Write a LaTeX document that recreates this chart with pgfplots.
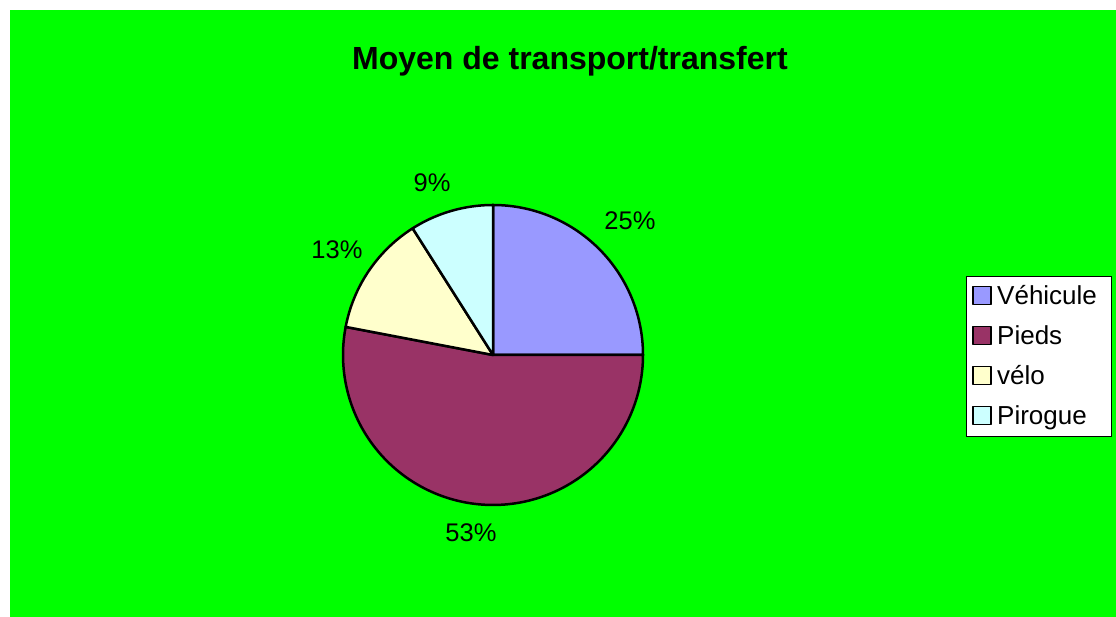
\documentclass[border=0pt]{standalone}
\usepackage{fontspec}
\setmainfont{Liberation Sans}
\usepackage{pgfplots}
\pgfplotsset{compat=1.18}
\definecolor{bggreen}{HTML}{00FF00}
\definecolor{cveh}{HTML}{9999FF}
\definecolor{cpie}{HTML}{993366}
\definecolor{cvel}{HTML}{FFFFCC}
\definecolor{cpir}{HTML}{CCFFFF}
\begin{document}
\begin{tikzpicture}
\begin{axis}[
  width=1116pt, height=617pt, scale only axis,
  xmin=0, xmax=1116, ymin=0, ymax=617,
  hide axis, clip=false,
  legend style={at={(axis cs:966,341)}, anchor=north west,
    draw=black, line width=0.8pt, fill=white,
    font=\fontsize{26}{30}\selectfont,
    inner xsep=6pt, inner ysep=6pt, row sep=12pt,
    nodes={text height=20pt, text depth=4pt, inner sep=2pt}},
  legend cell align=left,
  legend image code/.code={\draw[#1,line width=1.6pt] (0pt,-8pt) rectangle (18pt,10pt);
    \path[draw=none,fill=none] (22pt,0pt);},
]
% background
\fill[white] (axis cs:0,0) rectangle (axis cs:1116,617);
\fill[bggreen] (axis cs:10,0) rectangle (axis cs:1116,607);
% title
\node[font=\fontsize{32}{36}\selectfont\bfseries] at (axis cs:570,556) {Moyen de transport/transfert};
% pie slices: values 25, 53, 13, 9 (%), clockwise from 90 deg
% Vehicule 25% : 90 -> 0
\addplot[fill=cveh, draw=black, line width=2.5pt, line join=round, domain=0:90, samples=61]
  ({493+150*cos(x)},{262+150*sin(x)}) -- (axis cs:493,262) -- cycle;
\addlegendentry{Véhicule\hspace*{6pt}}
% Pieds 53% : 0 -> -190.8
\addplot[fill=cpie, draw=black, line width=2.5pt, line join=round, domain=-190.8:0, samples=121]
  ({493+150*cos(x)},{262+150*sin(x)}) -- (axis cs:493,262) -- cycle;
\addlegendentry{Pieds}
% velo 13% : -190.8 -> -237.6
\addplot[fill=cvel, draw=black, line width=2.5pt, line join=round, domain=-237.6:-190.8, samples=41]
  ({493+150*cos(x)},{262+150*sin(x)}) -- (axis cs:493,262) -- cycle;
\addlegendentry{vélo}
% Pirogue 9% : -237.6 -> -270
\addplot[fill=cpir, draw=black, line width=2.5pt, line join=round, domain=-270:-237.6, samples=31]
  ({493+150*cos(x)},{262+150*sin(x)}) -- (axis cs:493,262) -- cycle;
\addlegendentry{Pirogue}
% labels
\node[font=\fontsize{25.5}{30}\selectfont] at (axis cs:630,396.5) {25\%};
\node[font=\fontsize{25.5}{30}\selectfont] at (axis cs:471,84) {53\%};
\node[font=\fontsize{25.5}{30}\selectfont] at (axis cs:337,367) {13\%};
\node[font=\fontsize{25.5}{30}\selectfont] at (axis cs:432,434) {9\%};
\end{axis}
\end{tikzpicture}
\end{document}
